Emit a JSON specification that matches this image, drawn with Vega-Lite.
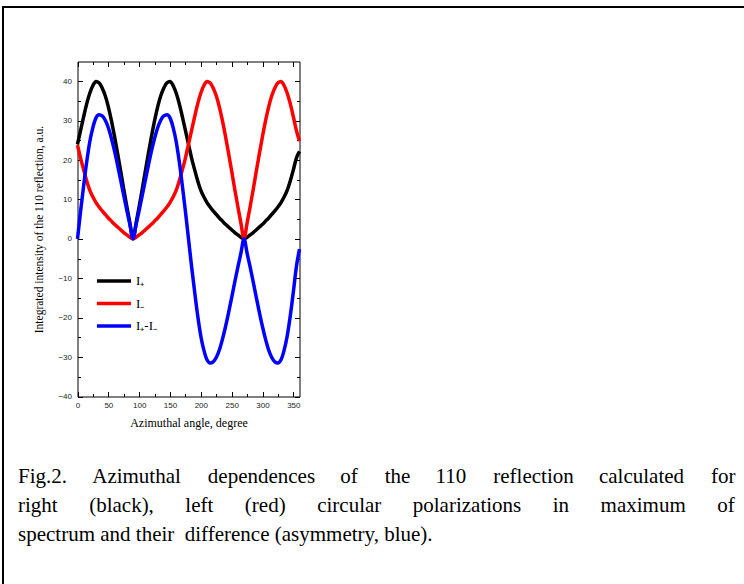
{
  "$schema": "https://vega.github.io/schema/vega-lite/v6.json",
  "autosize": {"type": "none"},
  "width": 743,
  "height": 579,
  "padding": {"left": 3, "top": 7, "right": -2, "bottom": -2},
  "background": "white",
  "title": {
    "text": [
      "Fig.2.\u2003\u2009Azimuthal\u2003\u2009\u200adependences\u2003\u2009of\u2003\u2009\u200athe\u2003\u2009110\u2003\u2009\u200areflection\u2003\u2009calculated\u2003\u2009\u200afor",
      "right\u2003\u2002(black),\u2003\u2002left\u2003\u2002(red)\u2003\u2002circular\u2003\u2002polarizations\u2003\u2002in\u2003\u2002maximum\u2003\u2002of",
      "spectrum and their\u00a0 difference (asymmetry, blue)."
    ],
    "orient": "top",
    "anchor": "start",
    "frame": "group",
    "font": "Liberation Serif",
    "fontSize": 21,
    "fontWeight": "normal",
    "color": "#000000",
    "lineHeight": 29,
    "baseline": "top",
    "offset": 0,
    "dx": 15,
    "dy": 538
  },
  "data": {
    "values": [
      {"angle": 0, "I_plus": 24, "I_minus": 23.8, "I_diff": 0},
      {"angle": 5, "I_plus": 27.5, "I_minus": 20.5, "I_diff": 7},
      {"angle": 10, "I_plus": 31, "I_minus": 17.5, "I_diff": 13.5},
      {"angle": 15, "I_plus": 34.3, "I_minus": 14.7, "I_diff": 19.6},
      {"angle": 20, "I_plus": 37, "I_minus": 12.3, "I_diff": 24.7},
      {"angle": 25, "I_plus": 38.9, "I_minus": 10.6, "I_diff": 28.3},
      {"angle": 30, "I_plus": 39.9, "I_minus": 9.2, "I_diff": 30.7},
      {"angle": 35, "I_plus": 39.6, "I_minus": 8.1, "I_diff": 31.5},
      {"angle": 40, "I_plus": 38.3, "I_minus": 7.1, "I_diff": 31.2},
      {"angle": 45, "I_plus": 36.3, "I_minus": 6.2, "I_diff": 30.1},
      {"angle": 50, "I_plus": 33.5, "I_minus": 5.3, "I_diff": 28.2},
      {"angle": 55, "I_plus": 30, "I_minus": 4.5, "I_diff": 25.5},
      {"angle": 60, "I_plus": 26, "I_minus": 3.7, "I_diff": 22.3},
      {"angle": 65, "I_plus": 21.7, "I_minus": 3, "I_diff": 18.7},
      {"angle": 70, "I_plus": 17.2, "I_minus": 2.3, "I_diff": 14.9},
      {"angle": 75, "I_plus": 12.6, "I_minus": 1.6, "I_diff": 11},
      {"angle": 80, "I_plus": 8.2, "I_minus": 1, "I_diff": 7.2},
      {"angle": 85, "I_plus": 4, "I_minus": 0.4, "I_diff": 3.6},
      {"angle": 90, "I_plus": 0, "I_minus": 0, "I_diff": 0},
      {"angle": 95, "I_plus": 4, "I_minus": 0.4, "I_diff": 3.6},
      {"angle": 100, "I_plus": 8.2, "I_minus": 1, "I_diff": 7.2},
      {"angle": 105, "I_plus": 12.6, "I_minus": 1.6, "I_diff": 11},
      {"angle": 110, "I_plus": 17.2, "I_minus": 2.3, "I_diff": 14.9},
      {"angle": 115, "I_plus": 21.7, "I_minus": 3, "I_diff": 18.7},
      {"angle": 120, "I_plus": 26, "I_minus": 3.7, "I_diff": 22.3},
      {"angle": 125, "I_plus": 30, "I_minus": 4.5, "I_diff": 25.5},
      {"angle": 130, "I_plus": 33.5, "I_minus": 5.3, "I_diff": 28.2},
      {"angle": 135, "I_plus": 36.3, "I_minus": 6.2, "I_diff": 30.1},
      {"angle": 140, "I_plus": 38.3, "I_minus": 7.1, "I_diff": 31.2},
      {"angle": 145, "I_plus": 39.6, "I_minus": 8.1, "I_diff": 31.5},
      {"angle": 150, "I_plus": 39.9, "I_minus": 9.2, "I_diff": 30.7},
      {"angle": 155, "I_plus": 38.9, "I_minus": 10.6, "I_diff": 28.3},
      {"angle": 160, "I_plus": 37, "I_minus": 12.3, "I_diff": 24.7},
      {"angle": 165, "I_plus": 34.3, "I_minus": 14.7, "I_diff": 19.6},
      {"angle": 170, "I_plus": 31, "I_minus": 17.5, "I_diff": 13.5},
      {"angle": 175, "I_plus": 27.5, "I_minus": 20.5, "I_diff": 7},
      {"angle": 180, "I_plus": 24, "I_minus": 24, "I_diff": 0},
      {"angle": 185, "I_plus": 20.5, "I_minus": 27.5, "I_diff": -7},
      {"angle": 190, "I_plus": 17.5, "I_minus": 31, "I_diff": -13.5},
      {"angle": 195, "I_plus": 14.7, "I_minus": 34.3, "I_diff": -19.6},
      {"angle": 200, "I_plus": 12.3, "I_minus": 37, "I_diff": -24.7},
      {"angle": 205, "I_plus": 10.6, "I_minus": 38.9, "I_diff": -28.3},
      {"angle": 210, "I_plus": 9.2, "I_minus": 39.9, "I_diff": -30.7},
      {"angle": 215, "I_plus": 8.1, "I_minus": 39.6, "I_diff": -31.5},
      {"angle": 220, "I_plus": 7.1, "I_minus": 38.3, "I_diff": -31.2},
      {"angle": 225, "I_plus": 6.2, "I_minus": 36.3, "I_diff": -30.1},
      {"angle": 230, "I_plus": 5.3, "I_minus": 33.5, "I_diff": -28.2},
      {"angle": 235, "I_plus": 4.5, "I_minus": 30, "I_diff": -25.5},
      {"angle": 240, "I_plus": 3.7, "I_minus": 26, "I_diff": -22.3},
      {"angle": 245, "I_plus": 3, "I_minus": 21.7, "I_diff": -18.7},
      {"angle": 250, "I_plus": 2.3, "I_minus": 17.2, "I_diff": -14.9},
      {"angle": 255, "I_plus": 1.6, "I_minus": 12.6, "I_diff": -11},
      {"angle": 260, "I_plus": 1, "I_minus": 8.2, "I_diff": -7.2},
      {"angle": 265, "I_plus": 0.4, "I_minus": 4, "I_diff": -3.6},
      {"angle": 270, "I_plus": 0, "I_minus": 0, "I_diff": 0},
      {"angle": 275, "I_plus": 0.4, "I_minus": 4, "I_diff": -3.6},
      {"angle": 280, "I_plus": 1, "I_minus": 8.2, "I_diff": -7.2},
      {"angle": 285, "I_plus": 1.6, "I_minus": 12.6, "I_diff": -11},
      {"angle": 290, "I_plus": 2.3, "I_minus": 17.2, "I_diff": -14.9},
      {"angle": 295, "I_plus": 3, "I_minus": 21.7, "I_diff": -18.7},
      {"angle": 300, "I_plus": 3.7, "I_minus": 26, "I_diff": -22.3},
      {"angle": 305, "I_plus": 4.5, "I_minus": 30, "I_diff": -25.5},
      {"angle": 310, "I_plus": 5.3, "I_minus": 33.5, "I_diff": -28.2},
      {"angle": 315, "I_plus": 6.2, "I_minus": 36.3, "I_diff": -30.1},
      {"angle": 320, "I_plus": 7.1, "I_minus": 38.3, "I_diff": -31.2},
      {"angle": 325, "I_plus": 8.1, "I_minus": 39.6, "I_diff": -31.5},
      {"angle": 330, "I_plus": 9.2, "I_minus": 39.9, "I_diff": -30.7},
      {"angle": 335, "I_plus": 10.6, "I_minus": 38.9, "I_diff": -28.3},
      {"angle": 340, "I_plus": 12.3, "I_minus": 37, "I_diff": -24.7},
      {"angle": 345, "I_plus": 14.7, "I_minus": 34.3, "I_diff": -19.6},
      {"angle": 350, "I_plus": 17.5, "I_minus": 31, "I_diff": -13.5},
      {"angle": 355, "I_plus": 20.5, "I_minus": 27.5, "I_diff": -7},
      {"angle": 360, "I_plus": 22.2, "I_minus": 24.8, "I_diff": -2.6}
    ]
  },
  "transform": [
    {"fold": ["I_plus", "I_minus", "I_diff"], "as": ["series", "value"]}
  ],
  "layer": [
    {
      "mark": {"type": "line", "strokeWidth": 3.5, "interpolate": "monotone"},
      "encoding": {
        "x": {
          "field": "angle",
          "type": "quantitative",
          "scale": {"domain": [0, 360], "range": [74.5, 296.5], "nice": false, "zero": false},
          "axis": {
            "orient": "bottom",
            "offset": -189.5,
            "values": [0, 25, 50, 75, 100, 125, 150, 175, 200, 225, 250, 275, 300, 325, 350],
            "labelExpr": "datum.value % 50 === 0 ? datum.label : ''",
            "labelFlush": false,
            "tickSize": {"condition": {"test": "datum.value % 50 === 0", "value": -5}, "value": -3},
            "labelPadding": 10,
            "title": "Azimuthal angle, degree",
            "titleFont": "Liberation Serif",
            "titleFontSize": 12,
            "titlePadding": 8
          }
        },
        "y": {
          "field": "value",
          "type": "quantitative",
          "scale": {"domain": [-40, 45], "range": [389.5, 54.5], "nice": false, "zero": false},
          "axis": {
            "orient": "left",
            "offset": -74.5,
            "values": [-40, -35, -30, -25, -20, -15, -10, -5, 0, 5, 10, 15, 20, 25, 30, 35, 40],
            "labelExpr": "datum.value % 10 === 0 ? datum.label : ''",
            "labelFlush": false,
            "tickSize": {"condition": {"test": "datum.value % 10 === 0", "value": -5}, "value": -3},
            "labelPadding": 11,
            "title": "Integrated intensity of the 110 reflection, a.u.",
            "titleFont": "Liberation Serif",
            "titleFontSize": 11.5,
            "titlePadding": 13
          }
        },
        "color": {
          "field": "series",
          "type": "nominal",
          "scale": {"domain": ["I_plus", "I_minus", "I_diff"], "range": ["#000000", "#ff0000", "#0000ff"]},
          "legend": {
            "orient": "none",
            "legendX": 98,
            "legendY": 261,
            "title": null,
            "padding": 0,
            "symbolType": "M-1.55,0H1.55",
            "symbolSize": 484,
            "symbolStrokeWidth": 3.5,
            "rowPadding": 2.5,
            "labelOffset": 9,
            "labelFont": "Liberation Serif",
            "labelFontSize": 13,
            "labelColor": "#000000",
            "labelExpr": "datum.label == 'I_plus' ? 'I\u208a' : datum.label == 'I_minus' ? 'I\u208b' : 'I\u208a-I\u208b'"
          }
        }
      }
    },
    {
      "mark": {"type": "point", "opacity": 0},
      "encoding": {
        "x": {
          "field": "angle",
          "type": "quantitative",
          "axis": {
            "orient": "top",
            "offset": -54.5,
            "values": [0, 25, 50, 75, 100, 125, 150, 175, 200, 225, 250, 275, 300, 325, 350],
            "labels": false,
            "tickSize": {"condition": {"test": "datum.value % 50 === 0", "value": -5}, "value": -3},
            "title": null
          }
        },
        "y": {
          "field": "value",
          "type": "quantitative",
          "axis": {
            "orient": "right",
            "offset": -446.5,
            "values": [-40, -35, -30, -25, -20, -15, -10, -5, 0, 5, 10, 15, 20, 25, 30, 35, 40],
            "labels": false,
            "tickSize": {"condition": {"test": "datum.value % 10 === 0", "value": -5}, "value": -3},
            "title": null
          }
        }
      }
    }
  ],
  "resolve": {"axis": {"x": "independent", "y": "independent"}},
  "config": {
    "view": {"stroke": "#000000", "strokeWidth": 2},
    "axis": {
      "domainColor": "#000000",
      "domainWidth": 1,
      "tickColor": "#000000",
      "tickWidth": 1,
      "grid": false,
      "labelFont": "Liberation Sans",
      "labelFontSize": 8,
      "labelColor": "#222222",
      "titleColor": "#000000",
      "titleFontWeight": "normal"
    }
  }
}
